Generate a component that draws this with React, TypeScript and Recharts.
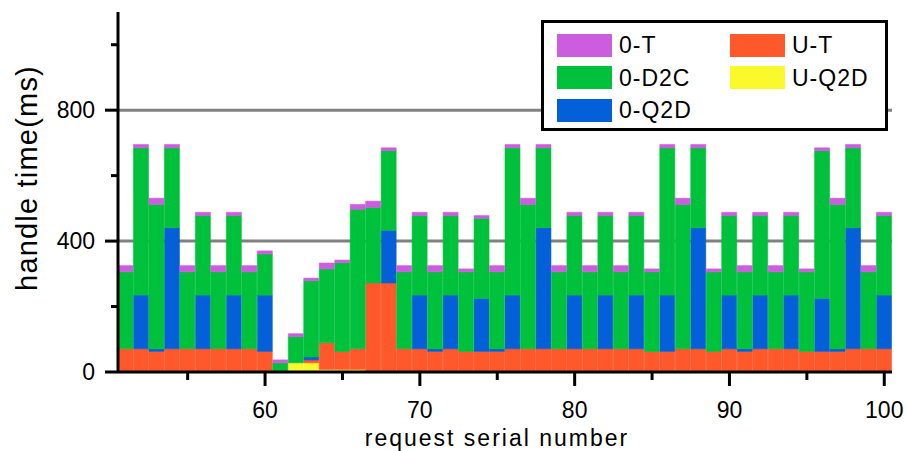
import { BarChart, Bar, XAxis, YAxis, CartesianGrid, Legend } from 'recharts';

// request serial numbers on the x axis
const requests = [
  51, 52, 53, 54, 55, 56, 57, 58, 59, 60,
  61, 62, 63, 64, 65, 66, 67, 68, 69, 70,
  71, 72, 73, 74, 75, 76, 77, 78, 79, 80,
  81, 82, 83, 84, 85, 86, 87, 88, 89, 90,
  91, 92, 93, 94, 95, 96, 97, 98, 99, 100,
];

// stacked segments, bottom to top (ms)
const uQ2D = [
  0, 0, 0, 0, 0, 0, 0, 0, 0, 0,
  0, 28, 28, 8, 8, 8, 0, 0, 0, 0,
  0, 0, 0, 0, 0, 0, 0, 0, 0, 0,
  0, 0, 0, 0, 0, 0, 0, 0, 0, 0,
  0, 0, 0, 0, 0, 0, 0, 0, 0, 0,
];
const uT = [
  71, 71, 63, 71, 71, 71, 71, 71, 71, 63,
  0, 0, 9, 81, 55, 63, 272, 272, 71, 71,
  63, 71, 63, 63, 63, 71, 71, 71, 71, 71,
  71, 71, 71, 71, 63, 63, 71, 71, 63, 71,
  63, 71, 71, 71, 63, 63, 63, 71, 71, 71,
];
const oQ2D = [
  0, 164, 8, 370, 0, 164, 0, 164, 0, 172,
  0, 0, 9, 0, 0, 0, 0, 161, 0, 164,
  8, 164, 0, 162, 8, 164, 0, 370, 0, 164,
  0, 164, 0, 164, 0, 172, 0, 370, 0, 164,
  8, 164, 0, 164, 0, 162, 8, 370, 0, 164,
];
const oD2C = [
  235, 450, 441, 244, 235, 243, 235, 243, 235, 126,
  28, 80, 233, 226, 271, 426, 231, 243, 235, 243,
  235, 243, 243, 245, 235, 450, 441, 244, 235, 243,
  235, 243, 235, 243, 243, 450, 441, 244, 243, 243,
  235, 243, 235, 243, 243, 451, 441, 244, 235, 243,
];
const oT = [
  19, 10, 19, 10, 19, 10, 19, 10, 19, 9,
  9, 9, 8, 18, 8, 15, 19, 9, 19, 10,
  19, 10, 9, 8, 19, 10, 19, 10, 19, 10,
  19, 10, 19, 10, 9, 10, 19, 10, 9, 10,
  19, 10, 19, 10, 9, 9, 19, 10, 19, 10,
];

const yTicks = [0, 200, 400, 600, 800, 1000];

const data = requests.map((n, i) => ({
  n,
  uQ2D: uQ2D[i],
  uT: uT[i],
  oQ2D: oQ2D[i],
  oD2C: oD2C[i],
  oT: oT[i],
}));

const COLORS = {
  oT: '#CD5DDF',
  oD2C: '#00C13C',
  oQ2D: '#0360D8',
  uT: '#FF582B',
  uQ2D: '#F9F92B',
};

const FONT = '"Liberation Sans", Arial, sans-serif';

const XTick = (props: any) => {
  const { x, y, payload } = props;
  const v = payload.value;
  if (v % 5 !== 0) return <g />;
  const major = v % 10 === 0;
  return (
    <g>
      <line x1={x} x2={x} y1={y} y2={y + (major ? 14 : 8)} stroke="#000" strokeWidth={3} />
      {major && (
        <text x={x} y={y + 46} textAnchor="middle" fontSize={23} fontFamily={FONT} fill="#000">
          {v}
        </text>
      )}
    </g>
  );
};

const YTick = (props: any) => {
  const { x, y, payload } = props;
  const v = payload.value;
  const major = v % 400 === 0;
  return (
    <g>
      <line x1={x - (major ? 13 : 7)} x2={x} y1={y} y2={y} stroke="#000" strokeWidth={3} />
      {major && (
        <text x={x - 23} y={y + 8} textAnchor="end" fontSize={23} fontFamily={FONT} fill="#000">
          {v}
        </text>
      )}
    </g>
  );
};

const legendItems = [
  [{ key: 'oT', label: '0-T' }, { key: 'uT', label: 'U-T' }],
  [{ key: 'oD2C', label: '0-D2C' }, { key: 'uQ2D', label: 'U-Q2D' }],
  [{ key: 'oQ2D', label: '0-Q2D' }],
];

const LegendBox = () => (
  <div
    style={{
      width: 347,
      height: 111,
      boxSizing: 'border-box',
      border: '3px solid #000',
      background: '#fff',
      position: 'relative',
      fontFamily: FONT,
      fontSize: 23,
      letterSpacing: 1,
      color: '#000',
    }}
  >
    {legendItems.map((row, r) =>
      row.map((it, c) => (
        <div
          key={it.key}
          style={{
            position: 'absolute',
            left: 13 + c * 173,
            top: 10 + r * 32.5,
            display: 'flex',
            alignItems: 'center',
            height: 24,
          }}
        >
          <div style={{ width: 55, height: 23, background: (COLORS as any)[it.key] }} />
          <span style={{ marginLeft: 7, lineHeight: '24px' }}>{it.label}</span>
        </div>
      ))
    )}
  </div>
);

export default function App() {
  return (
    <div style={{ position: 'absolute', left: 0, top: 0, width: 906, height: 451, background: '#fff' }}>
      <BarChart
        width={906}
        height={451}
        data={data}
        margin={{ top: 12, right: 14, bottom: 0, left: 0 }}
        barCategoryGap={0}
        barGap={0}
      >
        <CartesianGrid
          vertical={false}
          horizontalValues={[400, 800]}
          stroke="#808080"
          strokeWidth={3}
        />
        <XAxis
          dataKey="n"
          height={79}
          interval={0}
          tickSize={0}
          tickMargin={0}
          tick={<XTick />}
          axisLine={{ stroke: '#000', strokeWidth: 3 }}
          label={{
            content: () => (
              <text x={497} y={446} textAnchor="middle" fontSize={23} letterSpacing={2} fontFamily={FONT} fill="#000">
                request serial number
              </text>
            ),
          }}
        />
        <XAxis
          xAxisId="top"
          orientation="top"
          dataKey="n"
          height={0}
          tick={false}
          tickLine={false}
          axisLine={{ stroke: '#000', strokeWidth: 3 }}
        />
        <YAxis
          width={118}
          domain={[0, 1100]}
          ticks={yTicks}
          allowDataOverflow
          tickSize={0}
          tickMargin={0}
          tick={<YTick />}
          axisLine={{ stroke: '#000', strokeWidth: 3 }}
          label={{
            content: () => (
              <text
                x={37}
                y={178}
                transform="rotate(-90 37 178)"
                textAnchor="middle"
                fontSize={29}
                letterSpacing={1.2}
                fontFamily={FONT}
                fill="#000"
              >
                handle time(ms)
              </text>
            ),
          }}
        />
        <YAxis
          yAxisId="right"
          orientation="right"
          width={0}
          domain={[0, 1100]}
          tick={false}
          tickLine={false}
          axisLine={{ stroke: '#000', strokeWidth: 3 }}
        />
        <Legend
          layout="vertical"
          verticalAlign="middle"
          align="center"
          content={<LegendBox />}
          wrapperStyle={{ left: 541, top: 20, width: 347, height: 111 }}
        />
        <Bar dataKey="uQ2D" name="U-Q2D" stackId="a" fill={COLORS.uQ2D} stroke={COLORS.uQ2D} strokeWidth={0.6} isAnimationActive={false} />
        <Bar dataKey="uT" name="U-T" stackId="a" fill={COLORS.uT} stroke={COLORS.uT} strokeWidth={0.6} isAnimationActive={false} />
        <Bar dataKey="oQ2D" name="0-Q2D" stackId="a" fill={COLORS.oQ2D} stroke={COLORS.oQ2D} strokeWidth={0.6} isAnimationActive={false} />
        <Bar dataKey="oD2C" name="0-D2C" stackId="a" fill={COLORS.oD2C} stroke={COLORS.oD2C} strokeWidth={0.6} isAnimationActive={false} />
        <Bar dataKey="oT" name="0-T" stackId="a" fill={COLORS.oT} stroke={COLORS.oT} strokeWidth={0.6} isAnimationActive={false} />
      </BarChart>
    </div>
  );
}
